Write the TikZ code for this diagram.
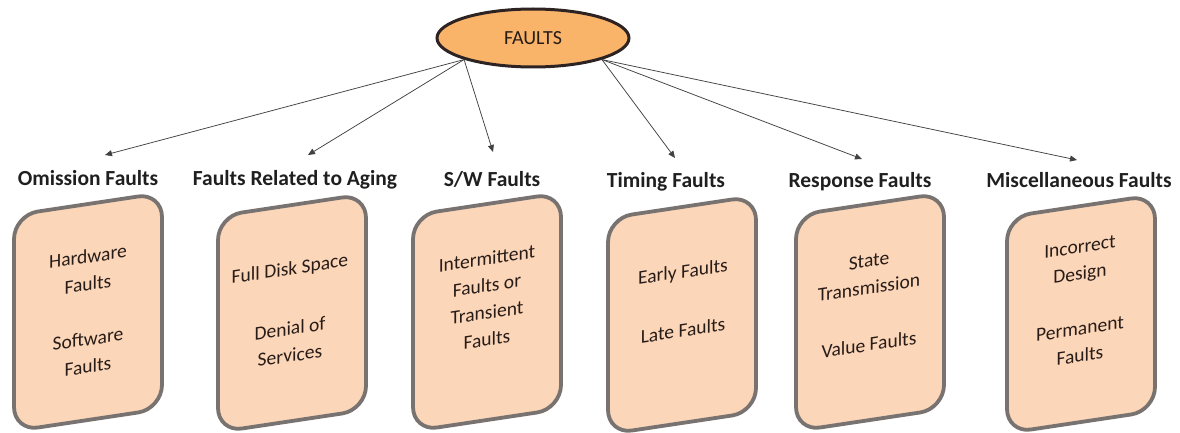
\documentclass[tikz,border=0pt]{standalone}
\usepackage{fontspec}
\setmainfont{Carlito}
\newfontfamily\slantfont[FakeSlant=0.15, FakeStretch=1.0225]{Carlito}
\usetikzlibrary{shapes.geometric,arrows.meta}
\definecolor{boxfill}{RGB}{251,214,184}
\definecolor{boxdraw}{RGB}{120,115,112}
\definecolor{ellfill}{RGB}{249,180,106}
\definecolor{elldraw}{RGB}{45,35,35}
\definecolor{txt}{RGB}{40,28,24}
\definecolor{arr}{RGB}{65,65,65}
\begin{document}
\begin{tikzpicture}[x=1pt,y=1pt,
  cat/.style={font=\fontsize{21.5}{24}\selectfont\bfseries, text=black!88, inner sep=0pt, anchor=base},
  slantat/.style={shift={#1}, yslant=0.15},
  card/.style={draw=boxdraw, fill=boxfill, line width=3.8pt, rounded corners=24pt,
    minimum width=148pt, minimum height=216pt, inner sep=0pt, transform shape},
  ctext/.style={font=\slantfont\fontsize{19.3}{24}\selectfont, text=txt, inner sep=0pt, anchor=base, rotate=8.53},
  conn/.style={draw=arr, line width=0.75pt, -{Triangle[length=7pt,width=6pt]}}
]
\useasboundingbox (0,0) rectangle (1180,-433);

\node[ellipse, draw=elldraw, fill=ellfill, line width=3pt, minimum width=192pt, minimum height=58pt,
  font=\fontsize{20}{24}\selectfont, text=txt, inner sep=0pt] (f) at (533,-38) {FAULTS};

% category labels
\node[cat] (l1) at (88,-185) {Omission Faults};
\node[cat] (l2) at (295,-185) {Faults Related to Aging};
\node[cat] (l3) at (492,-186) {S/W Faults};
\node[cat] (l4) at (666,-187) {Timing Faults};
\node[cat] (l5) at (860,-187) {Response Faults};
\node[cat] (l6) at (1079,-187) {Miscellaneous Faults};

% arrow tips
\coordinate (a1) at (105,-155);
\coordinate (a2) at (308,-155);
\coordinate (a3) at (493,-152);
\coordinate (a4) at (675,-158);
\coordinate (a5) at (862,-159);
\coordinate (a6) at (1077,-160);

\draw[conn] (f.south west) -- (a1);
\draw[conn] (f.south west) -- (a2);
\draw[conn] (f.south west) -- (a3);
\draw[conn] (f.south east) -- (a4);
\draw[conn] (f.south east) -- (a5);
\draw[conn] (f.south east) -- (a6);

% cards (slanted rounded boxes)
\begin{scope}[slantat={(88,-312)}]  \node[card] (b1) at (0,0) {}; \end{scope}
\begin{scope}[slantat={(292,-313)}] \node[card] (b2) at (0,0) {}; \end{scope}
\begin{scope}[slantat={(487,-312)}] \node[card] (b3) at (0,0) {}; \end{scope}
\begin{scope}[slantat={(682,-315)}] \node[card] (b4) at (0,0) {}; \end{scope}
\begin{scope}[slantat={(870,-312)}] \node[card] (b5) at (0,0) {}; \end{scope}
\begin{scope}[slantat={(1081,-314)}] \node[card] (b6) at (0,0) {}; \end{scope}

% card texts
\node[ctext] (t1a) at (88,-263) {Hardware};
\node[ctext] (t1b) at (88,-290.5) {Faults};
\node[ctext] (t1c) at (88,-345.5) {Software};
\node[ctext] (t1d) at (88,-373) {Faults};

\node[ctext] (t2a) at (290,-275) {Full Disk Space};
\node[ctext] (t2b) at (290,-335) {Denial of};
\node[ctext] (t2c) at (290,-362) {Services};

\node[ctext] (t3a) at (487,-265) {Intermittent};
\node[ctext] (t3b) at (487,-292) {Faults or};
\node[ctext] (t3c) at (487,-319) {Transient};
\node[ctext] (t3d) at (487,-346) {Faults};

\node[ctext] (t4a) at (683,-278) {Early Faults};
\node[ctext] (t4b) at (683,-337) {Late Faults};

\node[ctext] (t5a) at (869,-267) {State};
\node[ctext] (t5b) at (869,-294) {Transmission};
\node[ctext] (t5c) at (869,-351) {Value Faults};

\node[ctext] (t6a) at (1080,-253) {Incorrect};
\node[ctext] (t6b) at (1080,-280) {Design};
\node[ctext] (t6c) at (1080,-335) {Permanent};
\node[ctext] (t6d) at (1080,-362) {Faults};
\end{tikzpicture}
\end{document}
